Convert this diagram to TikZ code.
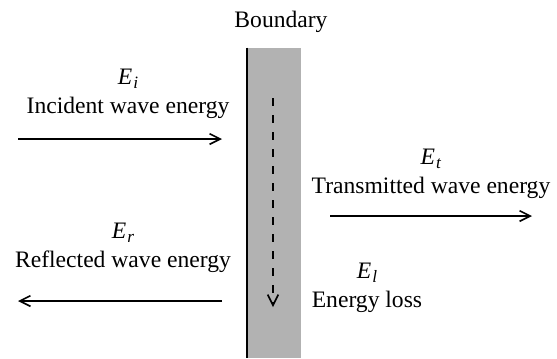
\documentclass[tikz,border=0pt]{standalone}
\usepackage{fontspec}
\setmainfont{Liberation Serif}
\usetikzlibrary{arrows.meta,positioning}
\newcommand{\enrg}[1]{\textit{E}\kern0.05em\raisebox{-0.4ex}{\fontsize{13}{13}\selectfont\textit{#1}}}

\begin{document}
\begin{tikzpicture}[x=0.75pt, y=-0.75pt,
    lbl/.style={align=center, inner sep=0pt, font=\fontsize{17.7}{22}\selectfont},
    wall/.style={fill=black!30, inner sep=0pt, minimum width=40.5pt, minimum height=232.5pt},
    flow/.style={-{Straight Barb[length=8pt,width=8pt]}, line width=1.2pt},
    lossflow/.style={flow, dash pattern=on 6pt off 6.75pt}
  ]
  \useasboundingbox (0,0) rectangle (557,358);
  \node[wall] (wall) at (274,203) {};
  \draw[line width=1.5pt] (wall.north west) -- (wall.south west);
  \node[lbl] (bnd) at (281,22) {Boundary};
  \node[lbl] (inc) at (128,94) {\enrg{i}\\Incident wave energy};
  \node[lbl] (trn) at (431,174) {\enrg{t}\\Transmitted wave energy};
  \node[lbl] (rfl) at (123,248) {\enrg{r}\\Reflected wave energy};
  \node[lbl] (los) at (367,288) {\enrg{l}\\Energy loss};
  % arrow ends
  \coordinate (inc0) at (18,139);
  \coordinate (inc1) at (222,139);
  \coordinate (trn0) at (330,216);
  \coordinate (trn1) at (532,216);
  \coordinate (rfl0) at (222,301);
  \coordinate (rfl1) at (18,301);
  \coordinate (los0) at (273,98);
  \coordinate (los1) at (273,307);
  \draw[flow] (inc0) -- (inc1);
  \draw[flow] (trn0) -- (trn1);
  \draw[flow] (rfl0) -- (rfl1);
  \draw[lossflow] (los0) -- (los1);
\end{tikzpicture}
\end{document}
